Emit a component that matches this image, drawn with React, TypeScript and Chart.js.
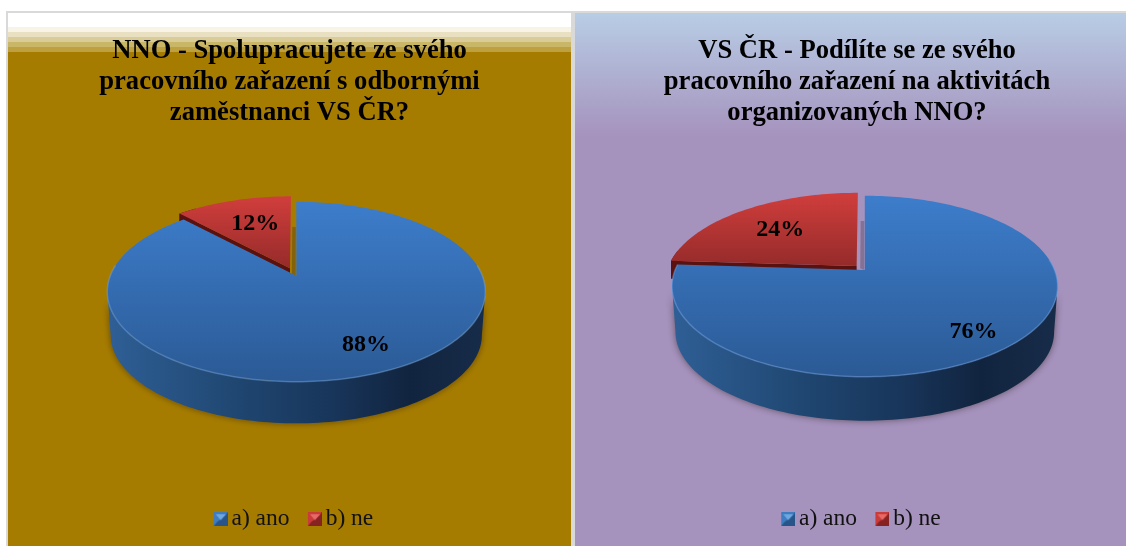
import React, { useEffect, useRef } from "react";
import { Chart, registerables } from "chart.js";

Chart.register(...registerables);

const categories = ["a) ano", "b) ne"];
const leftValues = [88, 12];
const rightValues = [76, 24];
const leftTitle = ["NNO - Spolupracujete ze svého", "pracovního zařazení s odbornými", "zaměstnanci VS ČR?"];
const rightTitle = ["VS ČR - Podílíte se ze svého", "pracovního zařazení na aktivitách", "organizovaných NNO?"];

const SERIF = "'Liberation Serif', serif";

function makeMarker(light: string, mid: string, dark: string) {
  const W = 30, H = 14;
  const c = document.createElement("canvas");
  c.width = W; c.height = H;
  const g = c.getContext("2d")!;
  const x0 = W - 14;
  g.fillStyle = mid; g.fillRect(x0, 0, 14, 14);
  g.fillStyle = dark;
  g.beginPath(); g.moveTo(x0, 14); g.lineTo(x0 + 14, 14); g.lineTo(x0 + 14, 0); g.lineTo(x0 + 11, 4); g.lineTo(x0 + 3, 10); g.closePath(); g.fill();
  g.fillStyle = light;
  g.beginPath(); g.moveTo(x0 + 2, 2); g.lineTo(x0 + 12, 2); g.lineTo(x0 + 7, 8); g.closePath(); g.fill();
  return c;
}

type Panel = {
  x0: number; topY: number; apexY: number; botY: number; rx: number; bottomEdge: number;
  labelR: number[]; nudge: number[][]; gap: number;
};

function pie3d(p: Panel) {
  const pp = p.apexY - p.topY, q = p.botY - p.apexY;
  const c = (pp - q) / (pp + q);
  const a = q + p.botY * c;
  const A = p.rx * Math.sqrt(1 - c * c);
  const ey = (p.topY + p.botY) / 2;
  const s = 0.982;
  const d = p.bottomEdge - (ey + (p.botY - ey) * s);
  const proj = (u: number, v: number) => {
    const w = 1 + c * v;
    return [p.x0 + (A * u) / w, (a * v + p.apexY) / w];
  };
  const sampled = (from: number, to: number, ox: number, oy: number) => {
    const n = Math.max(4, Math.ceil(Math.abs(to - from) * 40));
    const pts: number[][] = [];
    for (let i = 0; i <= n; i++) {
      const t = from + ((to - from) * i) / n;
      pts.push(proj(ox + Math.cos(t), oy + Math.sin(t)));
    }
    return pts;
  };
  const lowered = (pt: number[]) => [p.x0 + (pt[0] - p.x0) * s, ey + (pt[1] - ey) * s + d];
  const trace = (g: CanvasRenderingContext2D, pts: number[][]) => {
    pts.forEach((pt, i) => (i ? g.lineTo(pt[0], pt[1]) : g.moveTo(pt[0], pt[1])));
  };
  return {
    id: "pie3d",
    beforeDatasetsDraw(chart: any) {
      const g: CanvasRenderingContext2D = chart.ctx;
      const arcs = chart.getDatasetMeta(0).data;
      const frontA = Math.asin(-c), frontB = Math.PI - frontA;
      const offs = arcs.map((arc: any) => {
        const mid = (arc.startAngle + arc.endAngle) / 2;
        const e = (arc.options.offset || 0) / arc.outerRadius;
        return [e * Math.cos(mid), e * Math.sin(mid)];
      });

      // blue side wall
      const blue = arcs[0];
      const from = Math.max(blue.startAngle, frontA), to = Math.min(blue.endAngle, frontB);
      const top = sampled(from, to, offs[0][0], offs[0][1]);
      const bot = top.slice().reverse().map(lowered);
      const side = g.createLinearGradient(p.x0 - p.rx, 0, p.x0 + p.rx, 0);
      side.addColorStop(0, "#2f5f96");
      side.addColorStop(0.35, "#1f4670");
      side.addColorStop(0.6, "#18355a");
      side.addColorStop(0.8, "#11243f");
      side.addColorStop(1, "#172c49");
      g.save();
      g.shadowColor = "rgba(40,25,20,0.55)";
      g.shadowBlur = 7;
      g.fillStyle = side;
      g.beginPath(); trace(g, top.concat(bot)); g.closePath(); g.fill();
      g.restore();

      // red wall, and the shadowed strip in the gap between slices
      const red = arcs[1];
      const wall = 18;
      const [rx, ry] = offs[1];
      const down = (pts: number[][]) => pts.concat(pts.slice().reverse().map((pt) => [pt[0], pt[1] + wall]));
      g.fillStyle = "#5a1210";
      g.beginPath();
      trace(g, down([proj(rx, ry), proj(rx + Math.cos(red.startAngle), ry + Math.sin(red.startAngle))]));
      g.closePath(); g.fill();
      g.beginPath();
      trace(g, down(sampled(red.startAngle, red.startAngle + 0.12, rx, ry)));
      g.closePath(); g.fill();
      g.fillStyle = "rgba(45,30,40,0.28)";
      g.beginPath();
      trace(g, [proj(-p.gap, -0.62), proj(-0.003, -0.62), proj(-0.003, 0), proj(-p.gap, -0.02)]);
      g.closePath(); g.fill();

      // top faces
      const wedge = (arc: any, o: number[]) => {
        g.beginPath();
        trace(g, [proj(o[0], o[1]), ...sampled(arc.startAngle, arc.endAngle, o[0], o[1])]);
        g.closePath();
      };
      const bg = g.createLinearGradient(0, p.topY, 0, p.botY);
      bg.addColorStop(0, "#3d7dcb");
      bg.addColorStop(1, "#2b5a95");
      g.fillStyle = bg;
      wedge(blue, offs[0]); g.fill();

      g.save();
      g.strokeStyle = "rgba(110,165,230,0.45)";
      g.lineWidth = 1.5;
      g.beginPath(); trace(g, sampled(Math.max(blue.startAngle, frontA - 0.3), Math.min(blue.endAngle, frontB + 0.3), 0, 0)); g.stroke();
      g.restore();

      const redTop = proj(rx, ry - 1)[1];
      const redBot = proj(rx, ry)[1];
      const rg = g.createLinearGradient(0, redTop, 0, redBot);
      rg.addColorStop(0, "#d03e3c");
      rg.addColorStop(1, "#952b2a");
      g.fillStyle = rg;
      wedge(red, offs[1]); g.fill();

      // percentage labels
      const total = (chart.data.datasets[0].data as number[]).reduce((m: number, n: number) => m + n, 0);
      g.fillStyle = "#000";
      g.font = `bold 24px ${SERIF}`;
      g.textAlign = "center";
      g.textBaseline = "middle";
      arcs.forEach((arc: any, i: number) => {
        const mid = (arc.startAngle + arc.endAngle) / 2;
        const r = p.labelR[i];
        const pt = proj(offs[i][0] + r * Math.cos(mid), offs[i][1] + r * Math.sin(mid));
        const val = chart.data.datasets[0].data[i];
        g.fillText(`${Math.round((val / total) * 100)}%`, pt[0] + p.nudge[i][0], pt[1] + p.nudge[i][1]);
      });
      return false;
    },
  };
}

function backdrop(paint: (g: CanvasRenderingContext2D, w: number, h: number) => void) {
  return {
    id: "backdrop",
    beforeDraw(chart: any) {
      paint(chart.ctx, chart.width, chart.height);
    },
  };
}

const paintLeft = (g: CanvasRenderingContext2D, w: number, h: number) => {
  g.fillStyle = "#a67c00";
  g.fillRect(0, 0, w, h);
  const bands: [number, string][] = [
    [0, "#ffffff"], [14, "#f7f3e6"], [19, "#e8e0c0"], [24, "#d9cc99"], [29, "#c9b666"], [34, "#bda040"],
  ];
  bands.forEach(([y, col], i) => {
    const end = i + 1 < bands.length ? bands[i + 1][0] : 39;
    g.fillStyle = col;
    g.fillRect(0, y, w, end - y);
  });
};

const paintRight = (g: CanvasRenderingContext2D, w: number, h: number) => {
  const gr = g.createLinearGradient(0, 0, 0, 125);
  gr.addColorStop(0, "#b8cde5");
  gr.addColorStop(1, "#a592bd");
  g.fillStyle = "#a592bd";
  g.fillRect(0, 0, w, h);
  g.fillStyle = gr;
  g.fillRect(0, 0, w, 125);
};

function useChart(
  ref: React.RefObject<HTMLCanvasElement | null>,
  values: number[],
  title: string[],
  offset: number[],
  panel: Panel,
  paint: (g: CanvasRenderingContext2D, w: number, h: number) => void,
  titleTop: number,
) {
  useEffect(() => {
    const markers = [
      makeMarker("#6fa8e0", "#3f7dc0", "#27558a"),
      makeMarker("#e86a68", "#c93c3a", "#862322"),
    ];
    const chart = new Chart(ref.current!, {
      type: "pie",
      data: {
        labels: categories,
        datasets: [{ data: values, backgroundColor: ["#3d7dcb", "#d03e3c"], borderWidth: 0, offset }],
      },
      options: {
        responsive: false,
        animation: false,
        layout: { padding: { bottom: 5 } },
        plugins: {
          tooltip: { enabled: false },
          title: {
            display: true,
            text: title,
            color: "#000",
            font: { family: SERIF, size: 26.6, weight: "bold", lineHeight: 1.165 },
            padding: { top: titleTop, bottom: 10 },
          },
          legend: {
            display: true,
            position: "bottom",
            labels: {
              color: "#111",
              font: { family: SERIF, size: 23.5 },
              usePointStyle: true,
              boxWidth: 14,
              boxHeight: 14,
              padding: 10.4,
              generateLabels: () =>
                categories.map((text, i) => ({
                  text,
                  pointStyle: markers[i],
                  fillStyle: "transparent",
                  strokeStyle: "transparent",
                  lineWidth: 0,
                  hidden: false,
                  index: i,
                  datasetIndex: 0,
                  fontColor: "#111",
                })),
            },
          },
        },
      } as any,
      plugins: [backdrop(paint), pie3d(panel)] as any,
    });
    return () => chart.destroy();
  }, []);
}

export default function App() {
  const left = useRef<HTMLCanvasElement>(null);
  const right = useRef<HTMLCanvasElement>(null);
  useChart(left, leftValues, leftTitle, [0, 16], {
    x0: 288.3, topY: 188.7, apexY: 262.7, botY: 368.7, rx: 189, bottomEdge: 410.3,
    labelR: [0.75, 0.72], nudge: [[11, 0], [8, 6]], gap: 0.024,
  }, paintLeft, 23);
  useChart(right, rightValues, rightTitle, [0, 11], {
    x0: 289.8, topY: 182.7, apexY: 257, botY: 363.7, rx: 192.8, bottomEdge: 407.7,
    labelR: [0.78, 0.7], nudge: [[-4, 6], [5.5, 4]], gap: 0.024,
  }, paintRight, 23);
  const frame: React.CSSProperties = {
    position: "absolute", top: 11, boxSizing: "border-box", height: 535,
    border: "2px solid #d9d9d9", borderBottom: "none", overflow: "hidden",
  };
  return (
    <div style={{ position: "fixed", left: 0, top: 0, width: 1126, height: 546, background: "#fff", overflow: "hidden" }}>
      <div style={{ ...frame, left: 6, width: 567 }}>
        <canvas ref={left} width={563} height={533} style={{ display: "block" }} />
      </div>
      <div style={{ ...frame, left: 573, width: 568 }}>
        <canvas ref={right} width={564} height={533} style={{ display: "block" }} />
      </div>
    </div>
  );
}
